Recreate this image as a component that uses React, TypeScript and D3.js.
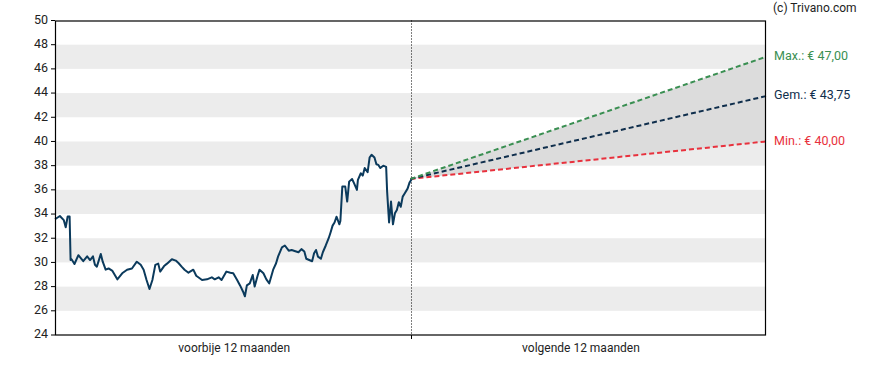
import { useRef, useEffect } from "react";
import * as d3 from "d3";

// past year: day offset (0..365) and closing price in €
const DAYS = [
  0, 5, 9, 11, 13, 15, 16, 17, 20, 24, 29, 33, 36, 39, 41, 43, 47, 49, 52, 55,
  59, 64, 69, 74, 79, 84, 88, 91, 94, 97, 100, 103, 106, 108, 112, 115, 120, 124, 127, 130,
  133, 137, 142, 145, 151, 156, 161, 164, 168, 171, 176, 180, 183, 187, 190, 193, 195, 197, 200, 203,
  205, 208, 210, 214, 217, 220, 224, 227, 229, 233, 236, 240, 243, 246, 250, 253, 256, 258, 261, 264,
  266, 268, 270, 273, 275, 278, 281, 283, 285, 287, 289, 292, 293, 295, 298, 300, 302, 305, 307, 310,
  311, 314, 316, 318, 321, 323, 325, 328, 330, 332, 334, 337, 340, 341, 343, 345, 347, 349, 351, 353,
  355, 357, 359, 362, 364, 366,
];
const PRICES = [
  33.57, 33.84, 33.5, 32.9, 33.8, 33.8, 30.2, 30.26, 29.87, 30.6, 30.1, 30.5, 30.2, 30.5, 29.8, 29.65, 30.7, 30.06, 29.4, 29.5,
  29.3, 28.6, 29.1, 29.4, 29.5, 30.06, 29.8, 29.4, 28.55, 27.8, 28.55, 29.8, 29.9, 29.24, 29.7, 29.9, 30.26, 30.15, 29.93, 29.65,
  29.4, 29.15, 29.4, 28.9, 28.55, 28.6, 28.77, 28.6, 28.77, 28.55, 29.24, 29.15, 29.1, 28.55, 28.1, 27.6, 27.2, 28.1, 28.27, 28.96,
  28.0, 28.9, 29.4, 29.1, 28.6, 28.27, 29.4, 29.93, 30.48, 31.25, 31.4, 30.97, 31.03, 30.95, 30.84, 31.1, 30.9, 30.3, 30.2, 30.1,
  30.76, 31.03, 30.48, 30.3, 30.84, 31.4, 32.0, 32.5, 33.04, 33.3, 33.78, 33.15, 33.43, 36.27, 36.27, 35.03, 36.68, 36.9, 36.55, 36.0,
  36.82, 37.37, 37.18, 37.8, 37.46, 38.67, 38.9, 38.67, 38.12, 38.06, 37.8, 38.0, 37.9, 35.85, 33.3, 35.03, 33.15, 34.06, 34.34, 34.98,
  34.6, 35.44, 35.7, 36.1, 36.6, 36.85,
];

// 12-month price targets
const TARGET_START = 36.9;
const TARGET_MAX = 47.0;
const TARGET_AVG = 43.75;
const TARGET_MIN = 40.0;

const Y_TICKS = [24, 26, 28, 30, 32, 34, 36, 38, 40, 42, 44, 46, 48, 50];
const BANDS = [26, 30, 34, 38, 42, 46];
const PERIOD_LABELS = ["voorbije 12 maanden", "volgende 12 maanden"];
const PERIOD_LABEL_DAYS = [184, 540];

const W = 888;
const H = 370;
const FONT = "Roboto, 'Noto Sans', sans-serif";

export default function App() {
  const svgRef = useRef<SVGSVGElement>(null);

  useEffect(() => {
    document.body.style.margin = "0";
    const svg = d3.select(svgRef.current);
    svg.selectAll("*").remove();

    const left = 55;
    const right = 766;
    const top = 20.5;
    const bottom = 335;

    const x = d3.scaleLinear().domain([0, 730]).range([left, right]);
    const y = d3.scaleLinear().domain([24, 50]).range([bottom, top]);
    const divX = Math.round(x(365)) + 0.5;

    // --- alternating bands ---
    svg
      .append("g")
      .selectAll("rect")
      .data(BANDS)
      .join("rect")
      .attr("x", left)
      .attr("width", right - left)
      .attr("y", (d) => y(d + 2))
      .attr("height", (d) => y(d) - y(d + 2))
      .attr("fill", "#ececec");

    // --- forecast cone ---
    const cone = d3
      .area<number[]>()
      .x((d) => x(d[0]))
      .y0((d) => y(d[1]))
      .y1((d) => y(d[2]));
    svg
      .append("path")
      .datum([
        [365, TARGET_START, TARGET_START],
        [730, TARGET_MIN, TARGET_MAX],
      ])
      .attr("d", cone)
      .attr("fill", "#dcdcdc");

    // --- divider ---
    svg
      .append("line")
      .attr("x1", divX)
      .attr("x2", divX)
      .attr("y1", top)
      .attr("y2", bottom)
      .attr("stroke", "#000")
      .attr("stroke-width", 1)
      .attr("stroke-dasharray", "1,2");

    // --- forecast lines ---
    const targets = [
      { v: TARGET_MIN, color: "#e8313d", label: "Min.: € 40,00" },
      { v: TARGET_AVG, color: "#0f2e4c", label: "Gem.: € 43,75" },
      { v: TARGET_MAX, color: "#3a8f52", label: "Max.: € 47,00" },
    ];
    targets.forEach((t) => {
      svg
        .append("line")
        .attr("x1", x(365))
        .attr("y1", y(TARGET_START))
        .attr("x2", x(730))
        .attr("y2", y(t.v))
        .attr("stroke", t.color)
        .attr("stroke-width", 2)
        .attr("stroke-dasharray", "5,3");
      svg
        .append("text")
        .attr("x", right + 8)
        .attr("y", y(t.v))
        .attr("dominant-baseline", "middle")
        .attr("font-family", FONT)
        .attr("font-size", 12.5)
        .attr("fill", t.color)
        .text(t.label);
    });

    // --- price line ---
    const line = d3
      .line<number>()
      .x((_, i) => x(DAYS[i]))
      .y((d) => y(d));
    svg
      .append("path")
      .datum(PRICES)
      .attr("d", line)
      .attr("fill", "none")
      .attr("stroke", "#0b3a5c")
      .attr("stroke-width", 2)
      .attr("stroke-linejoin", "round");

    // --- frame ---
    svg
      .append("rect")
      .attr("x", left + 0.5)
      .attr("y", top + 0.5)
      .attr("width", right - left - 1)
      .attr("height", bottom - top - 0.5)
      .attr("fill", "none")
      .attr("stroke", "#000")
      .attr("stroke-width", 1.2);

    // --- y axis ---
    const yAxis = svg.append("g");
    Y_TICKS.forEach((t) => {
      yAxis
        .append("line")
        .attr("x1", left - 4)
        .attr("x2", left)
        .attr("y1", y(t))
        .attr("y2", y(t))
        .attr("stroke", "#000");
      yAxis
        .append("text")
        .attr("x", left - 7)
        .attr("y", y(t))
        .attr("text-anchor", "end")
        .attr("dominant-baseline", "middle")
        .attr("font-family", FONT)
        .attr("font-size", 12.5)
        .attr("fill", "#222")
        .text(t);
    });

    // --- x axis ---
    svg
      .append("line")
      .attr("x1", divX)
      .attr("x2", divX)
      .attr("y1", bottom)
      .attr("y2", bottom + 4)
      .attr("stroke", "#000");
    PERIOD_LABELS.forEach((label, i) => {
      svg
        .append("text")
        .attr("x", x(PERIOD_LABEL_DAYS[i]))
        .attr("y", bottom + 14)
        .attr("text-anchor", "middle")
        .attr("dominant-baseline", "middle")
        .attr("font-family", FONT)
        .attr("font-size", 12)
        .attr("fill", "#222")
        .text(label);
    });

    svg
      .append("text")
      .attr("x", right + 7)
      .attr("y", 8.5)
      .attr("dominant-baseline", "middle")
      .attr("font-family", FONT)
      .attr("font-size", 12)
      .attr("fill", "#222")
      .text("(c) Trivano.com");
  }, []);

  return <svg ref={svgRef} width={W} height={H} style={{ display: "block" }} />;
}
